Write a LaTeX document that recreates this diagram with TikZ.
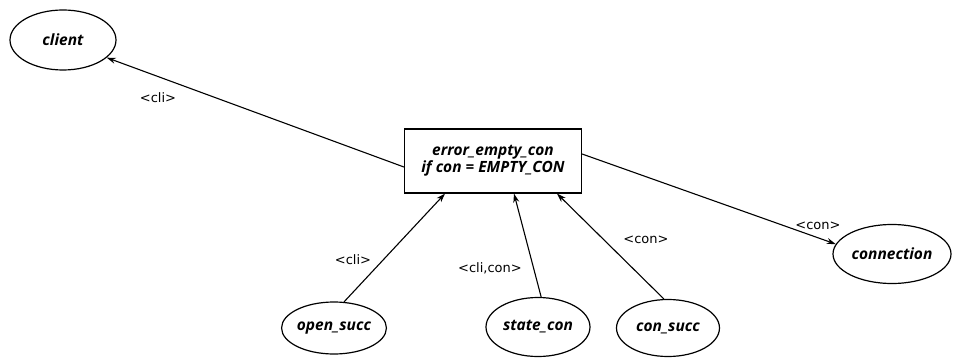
\documentclass[tikz,border=0pt]{standalone}
\usepackage{fontspec}
\setmainfont{Open Sans}
\newfontfamily\lblfont{DejaVu Sans}
\usetikzlibrary{arrows.meta,shapes.geometric}
\begin{document}
\begin{tikzpicture}[x=1pt,y=-1pt,
  ell/.style={draw,ellipse,line width=1.2pt,inner sep=0pt,font=\fontsize{15.5}{17}\selectfont\bfseries\itshape},
  box/.style={draw,rectangle,line width=1.2pt,align=center,font=\fontsize{15.5}{15}\selectfont\bfseries\itshape,inner sep=0pt},
  lbl/.style={font=\fontsize{13}{14}\selectfont\lblfont,inner sep=1pt},
  conn/.style={line width=1.1pt,-{Stealth[length=9pt,width=6pt,inset=3pt]}}]
\useasboundingbox (0,0) rectangle (954,361);
\node[ell,minimum width=106pt,minimum height=60pt] (client) at (63,40) {client};
\node[box,minimum width=177pt,minimum height=64pt] (err) at (493,161) {error\_empty\_con\\if con = EMPTY\_CON};
\node[ell,minimum width=118pt,minimum height=59pt] (connection) at (892,254) {connection};
\node[ell,minimum width=103pt,minimum height=52pt] (open) at (334,328) {open\_succ};
\node[ell,minimum width=104pt,minimum height=59pt] (state) at (538,327) {state\_con};
\node[ell,minimum width=103pt,minimum height=57pt] (consucc) at (668,328) {con\_succ};
\draw[conn] ([yshift=-6pt]err.west) -- (client.-22);
\draw[conn] ([yshift=7pt]err.east) -- (connection.170);
\draw[conn] (open.69) -- ([xshift=-48pt]err.south);
\draw[conn] (state.84) -- ([xshift=21pt]err.south);
\draw[conn] (consucc.98) -- ([xshift=64pt]err.south);
\node[lbl] (l1) at (158,98) {<cli>};
\node[lbl] (l2) at (818,226) {<con>};
\node[lbl] (l3) at (353,260) {<cli>};
\node[lbl] (l4) at (490,268) {<cli,con>};
\node[lbl] (l5) at (646,240) {<con>};
\end{tikzpicture}
\end{document}
